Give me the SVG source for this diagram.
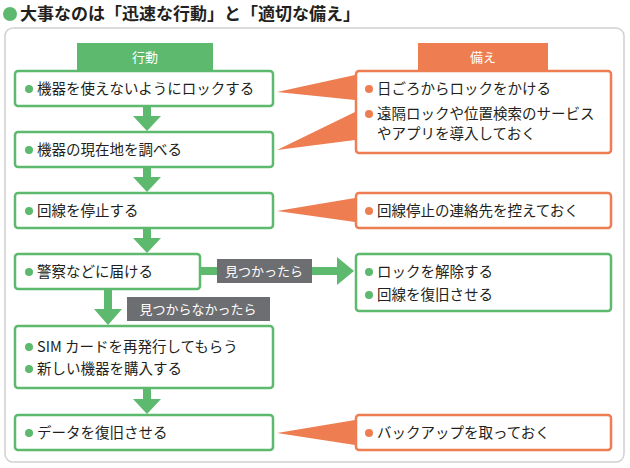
<svg xmlns="http://www.w3.org/2000/svg" width="630" height="468" viewBox="0 0 630 468">
<style>
text{font-family:"Noto Sans CJK JP","Noto Sans",sans-serif;font-size:14.5px;fill:#231f20}
.g{fill:#fff;stroke:#5cb96e;stroke-width:2.5}
.o{fill:#fff;stroke:#ee7e52;stroke-width:2.5}
.gd{fill:#5cb96e}.od{fill:#ee7e52}
.h{fill:#fff;font-size:13px;text-anchor:middle}
.lb{fill:#6d6e71}
</style>
<rect width="630" height="468" fill="#fff"/>
<circle cx="10" cy="14" r="7" fill="#5cb96e"/>
<text x="20" y="20" style="font-size:17px;font-weight:bold">大事なのは「迅速な行動」と「適切な備え」</text>
<rect x="5" y="28" width="619" height="434" rx="8" fill="#fff" stroke="#d0d0d0" stroke-width="1.5"/>
<g id="h1"><rect class="gd" x="77" y="43" width="136" height="28"/><text class="h" x="145" y="62">行動</text></g>
<g id="h2"><rect class="od" x="418" y="43" width="130" height="28"/><text class="h" x="483" y="62">備え</text></g>
<g id="n1"><rect class="g" x="15" y="71" width="258" height="35" rx="3"/><circle class="gd" cx="29" cy="89" r="4"/><text x="37" y="94">機器を使えないようにロックする</text></g>
<g id="n2"><rect class="g" x="15" y="132" width="258" height="35" rx="3"/><circle class="gd" cx="29" cy="150" r="4"/><text x="37" y="155">機器の現在地を調べる</text></g>
<g id="n3"><rect class="g" x="15" y="193" width="258" height="35" rx="3"/><circle class="gd" cx="29" cy="211" r="4"/><text x="37" y="216">回線を停止する</text></g>
<g id="n4"><rect class="g" x="15" y="254" width="185" height="35" rx="3"/><circle class="gd" cx="29" cy="272" r="4"/><text x="37" y="277">警察などに届ける</text></g>
<g id="n5"><rect class="g" x="15" y="326" width="258" height="62" rx="3"/><circle class="gd" cx="29" cy="347" r="4"/><text x="37" y="352">SIM カードを再発行してもらう</text><circle class="gd" cx="29" cy="369" r="4"/><text x="37" y="374">新しい機器を購入する</text></g>
<g id="n6"><rect class="g" x="15" y="415" width="258" height="35" rx="3"/><circle class="gd" cx="29" cy="433" r="4"/><text x="37" y="438">データを復旧させる</text></g>
<g id="p1"><rect class="o" x="356" y="71" width="255" height="82" rx="3"/><circle class="od" cx="369" cy="89" r="4"/><text x="377" y="94">日ごろからロックをかける</text><circle class="od" cx="369" cy="114" r="4"/><text x="377" y="119">遠隔ロックや位置検索のサービス</text><text x="377" y="139">やアプリを導入しておく</text></g>
<g id="p2"><rect class="o" x="356" y="193" width="255" height="35" rx="3"/><circle class="od" cx="369" cy="211" r="4"/><text x="377" y="216">回線停止の連絡先を控えておく</text></g>
<g id="p3"><rect class="g" x="356" y="254" width="255" height="57" rx="3"/><circle class="gd" cx="369" cy="272" r="4"/><text x="377" y="277">ロックを解除する</text><circle class="gd" cx="369" cy="295" r="4"/><text x="377" y="300">回線を復旧させる</text></g>
<g id="p4"><rect class="o" x="356" y="415" width="255" height="35" rx="3"/><circle class="od" cx="369" cy="433" r="4"/><text x="377" y="438">バックアップを取っておく</text></g>
<g id="connectors">
<polygon class="od" points="277,92 355,75 355,100"/>
<polygon class="od" points="277,150 355,112 355,140"/>
<polygon class="od" points="277,211 355,198 355,222"/>
<polygon class="od" points="277,433 355,420 355,445"/>
<g fill="#5cb96e">
<rect x="143" y="107" width="8" height="10"/><polygon points="133,116 161,116 147,131"/>
<rect x="143" y="168" width="8" height="10"/><polygon points="133,177 161,177 147,192"/>
<rect x="143" y="229" width="8" height="10"/><polygon points="133,238 161,238 147,253"/>
<rect x="104" y="290" width="8" height="20"/><polygon points="94,309 122,309 108,325"/>
<rect x="143" y="389" width="8" height="11"/><polygon points="133,399 161,399 147,414"/>
<rect x="201" y="267" width="137" height="8"/><polygon points="337,257 337,285 354,271"/>
</g>
<rect class="lb" x="217" y="259" width="95" height="24"/>
<text class="h" x="264" y="276">見つかったら</text>
<rect class="lb" x="127" y="297" width="143" height="24"/>
<text class="h" x="198" y="314">見つからなかったら</text>
</g>
</svg>
